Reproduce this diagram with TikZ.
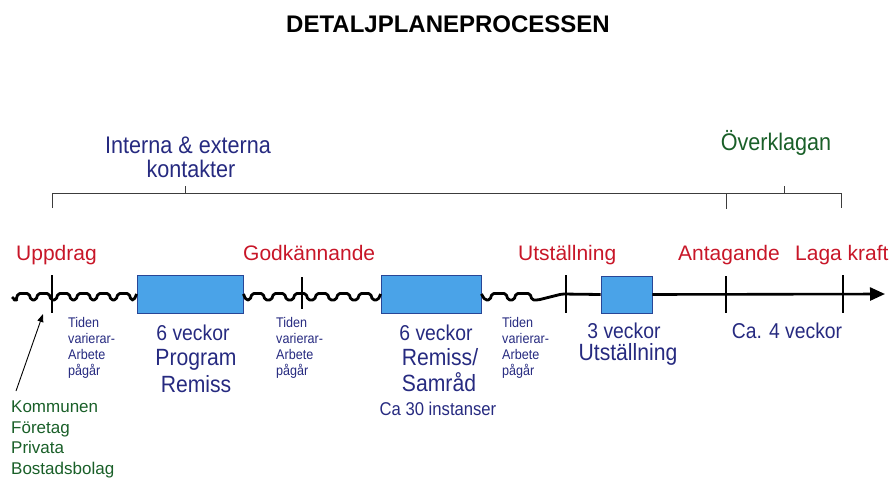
\documentclass[tikz,border=0pt]{standalone}
\usepackage{fontspec}
\setmainfont{Liberation Sans}
\newfontfamily\narrowsans[FakeStretch=0.9]{Liberation Sans}
\usetikzlibrary{arrows.meta}
\definecolor{navy}{RGB}{38,42,128}
\definecolor{lblred}{RGB}{200,22,40}
\definecolor{lblgreen}{RGB}{25,95,40}
\definecolor{boxfill}{RGB}{74,163,232}
\definecolor{boxdraw}{RGB}{40,70,150}
\definecolor{brk}{RGB}{60,60,60}
\tikzset{
  redlbl/.style={anchor=base west, inner sep=0pt, text=lblred, font=\fontsize{21}{25}\selectfont},
  bluebig/.style={anchor=base, inner sep=0pt, text=navy, font=\narrowsans\fontsize{23.5}{28}\selectfont},
  bluemid/.style={anchor=base, inner sep=0pt, text=navy, font=\narrowsans\fontsize{21.5}{26}\selectfont},
  bluesmall/.style={anchor=base, inner sep=0pt, text=navy, font=\narrowsans\fontsize{18.5}{22}\selectfont},
  tidenblock/.style={anchor=north west, inner sep=0pt, align=left, text=navy, font=\narrowsans\fontsize{14}{16}\selectfont},
  phasebox/.style={draw=boxdraw, fill=boxfill, line width=0.8pt, inner sep=0pt},
  timeline/.style={line width=2.8pt, rounded corners=1.8pt, line join=round},
  tickline/.style={line width=1.3pt},
  bracketline/.style={draw=brk, line width=1pt},
}
\begin{document}
\begin{tikzpicture}[x=1pt,y=-1pt]
\useasboundingbox (0,0) rectangle (892,479);

% title
\node[anchor=base, inner sep=0pt, font=\bfseries\fontsize{24}{28}\selectfont] (title) at (448,32) {DETALJPLANEPROCESSEN};

% top labels
\node[anchor=base, inner sep=0pt, text=navy, font=\narrowsans\fontsize{24}{25}\selectfont] (interna) at (188,153) {Interna \& externa};
\node[anchor=base, inner sep=0pt, text=navy, font=\narrowsans\fontsize{24}{25}\selectfont] (kontakter) at (191,177) {kontakter};
\node[anchor=base, inner sep=0pt, text=lblgreen, font=\narrowsans\fontsize{24}{28}\selectfont] (overk) at (776,150) {Överklagan};

% bracket
\draw[bracketline] (52,208) -- (52,193) -- (841,193) -- (841,208);
\draw[bracketline] (185,193) -- (185,186);
\draw[bracketline] (726,193) -- (726,209);
\draw[bracketline] (784,193) -- (784,186);

% red milestones
\node[redlbl] (uppdrag) at (16,260) {Uppdrag};
\node[redlbl] (godk) at (243,260) {Godkännande};
\node[redlbl] (utst) at (518,260) {Utställning};
\node[redlbl] (antag) at (678,260) {Antagande};
\node[redlbl] (laga) at (795,260) {Laga kraft};

% boxes
\node[phasebox, minimum width=106pt, minimum height=38pt] (box1) at (190,294) {};
\node[phasebox, minimum width=100pt, minimum height=38pt] (box2) at (431,294) {};
\node[phasebox, minimum width=51pt, minimum height=37pt] (box3) at (626.5,294.5) {};

% timeline
\coordinate (start) at (12,297);
\coordinate (tip) at (885,294);
\draw[timeline] (start) -- (15,300)
  \foreach \k in {0,...,5}{ -- ({16+20*\k},300) -- ({18+20*\k},293.5) -- ({29+20*\k},293.5) -- ({31+20*\k},300) }
  -- (134,300) -- (box1.west);
\draw[timeline] (box1.east) -- (246,300)
  \foreach \k in {0,...,5}{ -- ({250+21.5*\k},300) -- ({252+21.5*\k},293.5) -- ({263+21.5*\k},293.5) -- ({265+21.5*\k},300) }
  -- (378,300) -- (box2.west);
\draw[timeline] (box2.east) -- (485,300)
  \foreach \k in {0,1}{ -- ({490+24*\k},300) -- ({492+24*\k},293.5) -- ({506+24*\k},293.5) -- ({508+24*\k},300) }
  -- (538,300) -- (548,297.5) -- (562,294) -- (box3.west);
\draw[line width=2.6pt, -{Triangle[length=15pt,width=13pt]}] (box3.east) -- (tip);

% ticks
\draw[tickline] (52,275) -- (52,313);
\draw[tickline] (302,277) -- (302,309);
\draw[tickline] (566,275) -- (566,313);
\draw[tickline] (726,276) -- (726,313);
\draw[tickline] (843,275) -- (843,313);

% lower labels
\node[tidenblock] (t1) at (68,317) {Tiden\\varierar-\\Arbete\\pågår};
\node[tidenblock] (t2) at (276,317) {Tiden\\varierar-\\Arbete\\pågår};
\node[tidenblock] (t3) at (502,317) {Tiden\\varierar-\\Arbete\\pågår};

\node[bluemid] (v1) at (193,340) {6 veckor};
\node[bluebig] (p1) at (196,365) {Program};
\node[bluebig] (r1) at (196,392) {Remiss};

\node[bluemid] (v2) at (436,340) {6 veckor};
\node[bluebig] (p2) at (440,365) {Remiss/};
\node[bluebig] (r2) at (439,391) {Samråd};
\node[bluesmall] (c2) at (438,415) {Ca 30 instanser};

\node[bluemid] (v3) at (624,338) {3 veckor};
\node[bluebig] (u3) at (628,360) {Utställning};

\node[bluemid] (v4) at (787,338) {Ca. 4 veckor};

% actors
\node[anchor=north west, inner sep=0pt, align=left, text=lblgreen, font=\fontsize{17}{20.5}\selectfont] (actors) at (11,400.8) {Kommunen\\Företag\\Privata\\Bostadsbolag};
\coordinate (arrsrc) at (16,391);
\coordinate (arrtip) at (43,314);
\draw[line width=0.9pt, -{Triangle[length=8pt,width=6pt]}] (arrsrc) -- (arrtip);
\end{tikzpicture}
\end{document}
